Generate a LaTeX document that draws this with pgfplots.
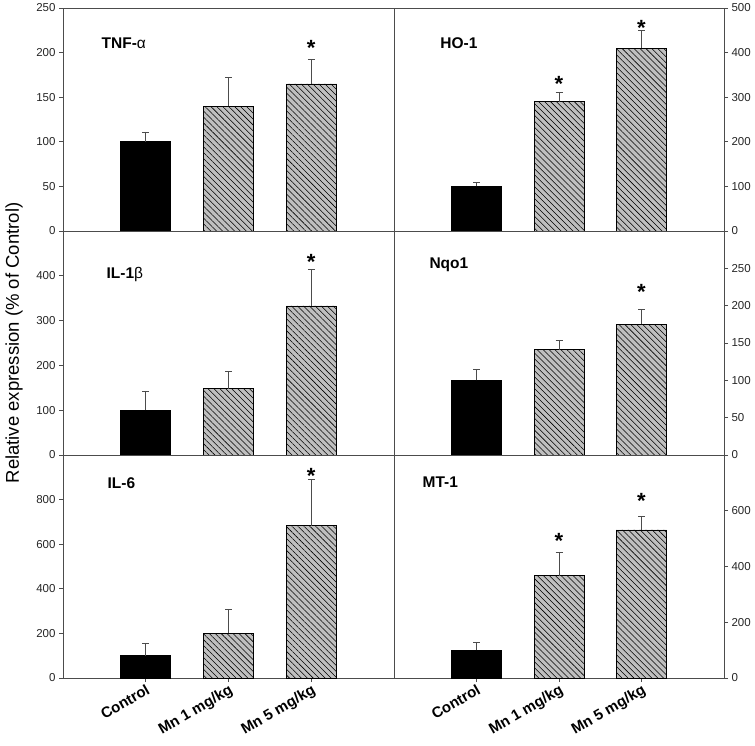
\documentclass[border=0pt]{standalone}
\usepackage{fontspec}
\setmainfont{Liberation Sans}
\usepackage{pgfplots}
\pgfplotsset{compat=1.18}
\usetikzlibrary{patterns.meta}

\pgfplotsset{
  base/.style={
    scale only axis, xmin=-1, xmax=3, ymin=0,
    ybar, bar width=50pt, bar shift=0pt,
    axis line style={black!70, line width=0.9pt},
    tick style={black!70, line width=0.8pt},
    major tick length=4pt, tick align=outside,
    xtick=\empty,
    /pgf/number format/assume math mode=true,
    ticklabel style={font=\fontsize{11.5}{13}\selectfont, color=black!85},
    clip=false, anchor=south west,
  },
  leftpanel/.style={width=331pt, ytick pos=left},
  rightpanel/.style={width=330pt, ytick pos=right, yticklabel pos=right},
  bottompanel/.style={
    xtick={0,1,2}, xtick pos=bottom,
    xticklabels={Control, Mn 1 mg/kg, Mn 5 mg/kg},
    xticklabel style={font=\bfseries\fontsize{15}{17}\selectfont, color=black, rotate=30, anchor=north east, inner sep=1pt},
  },
  ctrl/.style={fill=black, draw=black, line width=0.6pt,
    error bars/.cd, y dir=plus, y explicit,
    error bar style={black!70, line width=0.8pt},
    error mark options={rotate=90, mark size=3.5pt, black!70, line width=0.8pt}},
  mn/.style={fill=gray!50, draw=black, line width=0.6pt,
    postaction={pattern={Lines[angle=-45,distance=4.2pt,line width=0.55pt]}, pattern color=black},
    error bars/.cd, y dir=plus, y explicit,
    error bar style={black!70, line width=0.8pt},
    error mark options={rotate=90, mark size=3.5pt, black!70, line width=0.8pt}},
}
\newcommand{\ptitle}{\bfseries\fontsize{15.5}{18}\selectfont}
\newcommand{\pstar}{\bfseries\fontsize{22}{24}\selectfont}

\begin{document}
\begin{tikzpicture}
\useasboundingbox (0,0) rectangle (755pt,745pt);

% ---------- top left: TNF-alpha ----------
\begin{axis}[base, leftpanel, at={(63pt,514pt)}, height=223pt, ymax=250, ytick={0,50,100,150,200,250}]
\addplot[ctrl] coordinates {(0,100) +- (0,11)};
\addplot[mn] coordinates {(1,140) +- (0,32) (2,165) +- (0,27)};
\node[anchor=west, font=\ptitle] at (rel axis cs:0.106,0.843) {TNF-{\mdseries α}};
\node[font=\pstar, yshift=-4.8pt] at (axis cs:2,211) {*};
\end{axis}

% ---------- top right: HO-1 ----------
\begin{axis}[base, rightpanel, at={(394pt,514pt)}, height=223pt, ymax=500, ytick={0,100,200,300,400,500}]
\addplot[ctrl] coordinates {(0,100) +- (0,9)};
\addplot[mn] coordinates {(1,290) +- (0,20) (2,410) +- (0,40)};
\node[anchor=west, font=\ptitle] at (rel axis cs:0.130,0.843) {HO-1};
\node[font=\pstar, yshift=-4.8pt] at (axis cs:1,341) {*};
\node[font=\pstar, yshift=-4.8pt] at (axis cs:2,467) {*};
\end{axis}

% ---------- middle left: IL-1beta ----------
\begin{axis}[base, leftpanel, at={(63pt,290pt)}, height=224pt, ymax=500, ytick={0,100,200,300,400}]
\addplot[ctrl] coordinates {(0,100) +- (0,43)};
\addplot[mn] coordinates {(1,148) +- (0,38) (2,333) +- (0,81)};
\node[anchor=west, font=\ptitle] at (rel axis cs:0.121,0.804) {IL-1{\mdseries β}};
\node[font=\pstar, yshift=-4.8pt] at (axis cs:2,442) {*};
\end{axis}

% ---------- middle right: Nqo1 ----------
\begin{axis}[base, rightpanel, at={(394pt,290pt)}, height=224pt, ymax=300, ytick={0,50,100,150,200,250}]
\addplot[ctrl] coordinates {(0,100) +- (0,15)};
\addplot[mn] coordinates {(1,141) +- (0,12) (2,175) +- (0,20)};
\node[anchor=west, font=\ptitle] at (rel axis cs:0.097,0.848) {Nqo1};
\node[font=\pstar, yshift=-4.8pt] at (axis cs:2,225) {*};
\end{axis}

% ---------- bottom left: IL-6 ----------
\begin{axis}[base, leftpanel, bottompanel, at={(63pt,67pt)}, height=223pt, ymax=1000, ytick={0,200,400,600,800}]
\addplot[ctrl] coordinates {(0,100) +- (0,55)};
\addplot[mn] coordinates {(1,200) +- (0,107) (2,683) +- (0,206)};
\node[anchor=west, font=\ptitle] at (rel axis cs:0.124,0.874) {IL-6};
\node[font=\pstar, yshift=-4.8pt] at (axis cs:2,927) {*};
\end{axis}

% ---------- bottom right: MT-1 ----------
\begin{axis}[base, rightpanel, bottompanel, at={(394pt,67pt)}, height=223pt, ymax=800, ytick={0,200,400,600}]
\addplot[ctrl] coordinates {(0,100) +- (0,27)};
\addplot[mn] coordinates {(1,367) +- (0,85) (2,531) +- (0,48)};
\node[anchor=west, font=\ptitle] at (rel axis cs:0.076,0.879) {MT-1};
\node[font=\pstar, yshift=-4.8pt] at (axis cs:1,510) {*};
\node[font=\pstar, yshift=-4.8pt] at (axis cs:2,651) {*};
\end{axis}

\node[rotate=90, font=\fontsize{18.5}{22}\selectfont] at (14pt,402pt) {Relative expression (\% of Control)};
\end{tikzpicture}
\end{document}
